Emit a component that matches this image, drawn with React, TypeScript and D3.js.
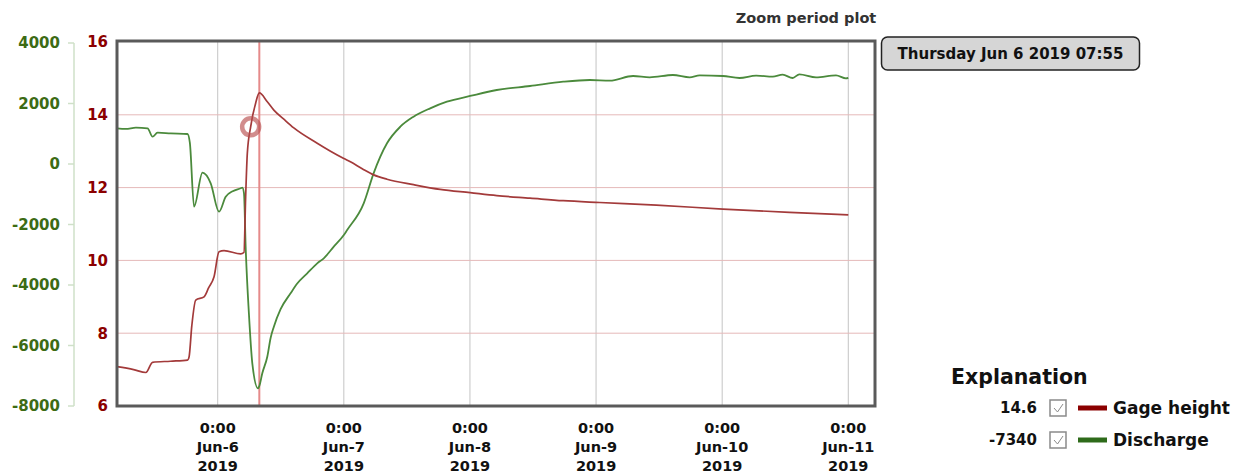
import React from "react";
import * as d3 from "d3";

const parse = d3.timeParse("%Y-%m-%d %H:%M");

// readings taken off the zoom period plot
const gageHeight: [string, number][] = [
  ["2019-06-05 04:50", 7.08], ["2019-06-05 08:00", 7.0], ["2019-06-05 10:20", 6.92],
  ["2019-06-05 11:36", 7.2], ["2019-06-05 15:00", 7.23], ["2019-06-05 18:15", 7.26],
  ["2019-06-05 18:33", 7.35], ["2019-06-05 19:04", 8.2], ["2019-06-05 19:49", 8.91],
  ["2019-06-05 21:24", 9.0], ["2019-06-05 22:17", 9.25], ["2019-06-05 23:18", 9.55],
  ["2019-06-06 00:15", 10.24], ["2019-06-06 01:12", 10.27], ["2019-06-06 04:22", 10.18],
  ["2019-06-06 05:00", 10.22], ["2019-06-06 05:19", 11.75], ["2019-06-06 05:38", 12.94],
  ["2019-06-06 06:16", 13.67], ["2019-06-06 07:13", 14.32], ["2019-06-06 07:55", 14.6],
  ["2019-06-06 09:26", 14.36], ["2019-06-06 10:41", 14.13], ["2019-06-06 12:35", 13.88],
  ["2019-06-06 14:29", 13.64], ["2019-06-06 18:56", 13.22],
  ["2019-06-06 21:28", 13.0], ["2019-06-07 00:00", 12.8], ["2019-06-07 01:15", 12.71],
  ["2019-06-07 03:30", 12.52], ["2019-06-07 05:41", 12.35], ["2019-06-07 08:13", 12.23],
  ["2019-06-07 13:16", 12.08],
  ["2019-06-07 18:20", 11.95], ["2019-06-08 00:02", 11.86], ["2019-06-08 05:06", 11.78],
  ["2019-06-08 11:26", 11.71], ["2019-06-08 17:45", 11.64], ["2019-06-09 00:43", 11.59],
  ["2019-06-09 11:29", 11.52], ["2019-06-10 00:08", 11.41], ["2019-06-10 12:48", 11.32],
  ["2019-06-11 00:00", 11.25],
];

const discharge: [string, number][] = [
  ["2019-06-05 04:50", 1179], ["2019-06-05 06:30", 1160], ["2019-06-05 08:26", 1200],
  ["2019-06-05 10:39", 1179], ["2019-06-05 11:36", 902], ["2019-06-05 12:33", 1035],
  ["2019-06-05 15:05", 1010], ["2019-06-05 18:15", 992], ["2019-06-05 18:42", 700],
  ["2019-06-05 19:30", -1410], ["2019-06-05 21:06", -288], ["2019-06-05 22:40", -638],
  ["2019-06-06 00:15", -1577], ["2019-06-06 01:31", -1081], ["2019-06-06 02:51", -900],
  ["2019-06-06 04:22", -803], ["2019-06-06 04:41", -780], ["2019-06-06 05:00", -969],
  ["2019-06-06 05:19", -2734], ["2019-06-06 05:56", -4936], ["2019-06-06 06:35", -6588],
  ["2019-06-06 07:40", -7420], ["2019-06-06 07:55", -7340], ["2019-06-06 08:29", -6919],
  ["2019-06-06 09:26", -6370], ["2019-06-06 10:04", -5750], ["2019-06-06 10:41", -5378],
  ["2019-06-06 11:58", -4800], ["2019-06-06 13:52", -4274], ["2019-06-06 15:08", -3950],
  ["2019-06-06 17:02", -3613], ["2019-06-06 18:56", -3283], ["2019-06-06 20:11", -3117],
  ["2019-06-06 22:05", -2734], ["2019-06-07 00:00", -2350], ["2019-06-07 00:38", -2182],
  ["2019-06-07 03:47", -1299], ["2019-06-07 05:41", -300], ["2019-06-07 08:13", 684],
  ["2019-06-07 10:45", 1233], ["2019-06-07 13:16", 1564], ["2019-06-07 16:26", 1841],
  ["2019-06-07 19:37", 2060], ["2019-06-08 00:02", 2248], ["2019-06-08 05:06", 2446],
  ["2019-06-08 11:26", 2579], ["2019-06-08 17:45", 2721], ["2019-06-08 22:49", 2777],
  ["2019-06-09 02:37", 2755], ["2019-06-09 07:02", 2909], ["2019-06-09 10:13", 2866],
  ["2019-06-09 14:38", 2942], ["2019-06-09 17:49", 2866], ["2019-06-09 19:43", 2931],
  ["2019-06-10 00:08", 2909], ["2019-06-10 03:18", 2843], ["2019-06-10 06:28", 2920],
  ["2019-06-10 09:38", 2886], ["2019-06-10 11:31", 2953], ["2019-06-10 13:25", 2843],
  ["2019-06-10 14:41", 2965], ["2019-06-10 17:52", 2866], ["2019-06-10 21:40", 2931],
  ["2019-06-10 23:34", 2833], ["2019-06-11 00:00", 2850],
];

const timeDomain = ["2019-06-05 04:50", "2019-06-11 05:05"];
const dayTicks = [
  "2019-06-06 00:00", "2019-06-07 00:00", "2019-06-08 00:00",
  "2019-06-09 00:00", "2019-06-10 00:00", "2019-06-11 00:00",
];
const gageTicks = [6, 8, 10, 12, 14, 16];
const dischargeTicks = [-8000, -6000, -4000, -2000, 0, 2000, 4000];
const cursorTime = "2019-06-06 07:55";
const cursorLabel = "Thursday Jun 6 2019 07:55";
const markerPoint: [string, number] = ["2019-06-06 06:16", 13.67];
const legendItems = [
  { name: "Gage height", value: "14.6", color: "#8b0000" },
  { name: "Discharge", value: "-7340", color: "#2e6b1a" },
];

const FONT = "'DejaVu Sans', Verdana, sans-serif";

export default function App() {
  const left = 117, right = 875, top = 41, bottom = 406;

  const x = d3.scaleTime()
    .domain(timeDomain.map(d => parse(d) as Date))
    .range([left, right]);
  const yG = d3.scaleLinear().domain([6, 16]).range([406, 42]);
  const yD = d3.scaleLinear().domain([-8000, 4000]).range([406, 43]);

  const gageLine = d3.line<[string, number]>()
    .x(d => x(parse(d[0]) as Date))
    .y(d => yG(d[1]))
    .curve(d3.curveMonotoneX);
  const dischargeLine = d3.line<[string, number]>()
    .x(d => x(parse(d[0]) as Date))
    .y(d => yD(d[1]))
    .curve(d3.curveMonotoneX);

  const fmtTime = d3.timeFormat("%-H:%M");
  const fmtDay = d3.timeFormat("%b-%-d");
  const fmtYear = d3.timeFormat("%Y");
  const cx = x(parse(cursorTime) as Date);

  return (
    <svg width={1239} height={474}
      style={{ position: "absolute", left: 0, top: 0, background: "#fff" }}
      fontFamily={FONT} fontWeight="bold">
      <defs>
        <clipPath id="plot">
          <rect x={left} y={top} width={right - left} height={bottom - top} />
        </clipPath>
      </defs>

      <text x={806} y={23} textAnchor="middle" fontSize={14.5} fill="#333">Zoom period plot</text>

      {/* grid */}
      {dayTicks.map(t => (
        <line key={t} x1={x(parse(t) as Date)} x2={x(parse(t) as Date)} y1={top} y2={bottom}
          stroke="#c4c4c4" strokeWidth={1} />
      ))}
      {gageTicks.filter(v => v > 6 && v < 16).map(v => (
        <line key={v} x1={left} x2={right} y1={yG(v)} y2={yG(v)} stroke="#e5b9b9" strokeWidth={1} />
      ))}

      <line x1={cx} x2={cx} y1={top} y2={bottom} stroke="#e58a8a" strokeWidth={2} />

      <g clipPath="url(#plot)" fill="none" strokeLinejoin="round">
        <path d={dischargeLine(discharge) || ""} stroke="#4b8a3c" strokeWidth={1.8} />
        <path d={gageLine(gageHeight) || ""} stroke="#a33a3a" strokeWidth={1.7} />
      </g>

      <circle cx={x(parse(markerPoint[0]) as Date)} cy={yG(markerPoint[1])} r={8.5}
        fill="none" stroke="#b84f4f" strokeOpacity={0.65} strokeWidth={4.5} />

      <rect x={left} y={top} width={right - left} height={bottom - top}
        fill="none" stroke="#5a5a5a" strokeWidth={3} />

      {/* discharge axis */}
      <line x1={74} x2={74} y1={yD(4000)} y2={yD(-8000)} stroke="#cfe0c8" strokeWidth={1.5} />
      {dischargeTicks.map(v => (
        <g key={v}>
          <line x1={68} x2={74} y1={yD(v)} y2={yD(v)} stroke="#cfe0c8" strokeWidth={1.5} />
          <text x={60} y={yD(v)} dy="0.36em" textAnchor="end" fontSize={15} fill="#3c6b14">{v}</text>
        </g>
      ))}

      {/* gage height axis */}
      {gageTicks.map(v => (
        <text key={v} x={108} y={yG(v)} dy="0.36em" textAnchor="end" fontSize={15} fill="#8b0000">{v}</text>
      ))}

      {/* time axis */}
      {dayTicks.map(t => {
        const d = parse(t) as Date;
        return (
          <text key={t} x={x(d)} textAnchor="middle" fontSize={14.5} fill="#111">
            <tspan x={x(d)} y={433}>{fmtTime(d)}</tspan>
            <tspan x={x(d)} y={452}>{fmtDay(d)}</tspan>
            <tspan x={x(d)} y={471}>{fmtYear(d)}</tspan>
          </text>
        );
      })}

      {/* tooltip */}
      <rect x={881.5} y={37} width={258} height={33} rx={6} fill="#d6d6d6" stroke="#222" strokeWidth={1.5} />
      <text x={1010.5} y={59} textAnchor="middle" fontSize={15} fill="#111">{cursorLabel}</text>

      {/* legend */}
      <text x={951} y={384} fontSize={20.5} fill="#111">Explanation</text>
      {legendItems.map((item, i) => {
        const ly = 408 + i * 32;
        return (
          <g key={item.name}>
            <text x={1037} y={ly} dy="0.36em" textAnchor="end" fontSize={15} fill="#111">{item.value}</text>
            <rect x={1050} y={ly - 8} width={16} height={16} fill="#fff" stroke="#8a8a8a" strokeWidth={1.5} />
            <path d={`M${1054},${ly} L${1057.5},${ly + 4} L${1063},${ly - 4}`} fill="none" stroke="#8a8a8a" strokeWidth={1} />
            <line x1={1078} x2={1107} y1={ly} y2={ly} stroke={item.color} strokeWidth={5} />
            <text x={1113} y={ly} dy="0.36em" fontSize={17} fill="#111">{item.name}</text>
          </g>
        );
      })}
    </svg>
  );
}
